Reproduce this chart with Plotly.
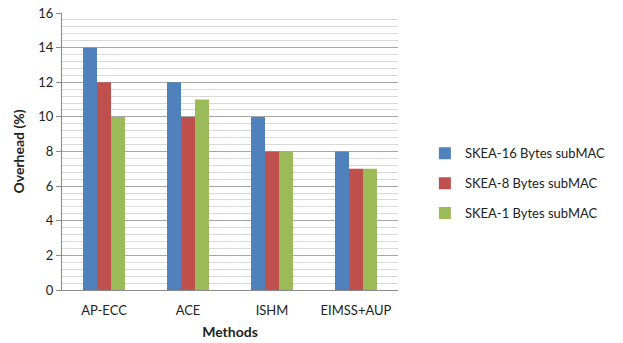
import plotly.graph_objects as go

methods = ["AP-ECC", "ACE", "ISHM", "EIMSS+AUP"]
skea16 = [14, 12, 10, 8]
skea8 = [12, 10, 8, 7]
skea1 = [10, 11, 8, 7]
series_names = ["SKEA-16 Bytes subMAC", "SKEA-8 Bytes subMAC", "SKEA-1 Bytes subMAC"]
colors = ["#4F81BD", "#C0504D", "#9BBB59"]

fig = go.Figure()
for i, (name, vals, c) in enumerate(zip(series_names, [skea16, skea8, skea1], colors)):
    fig.add_trace(go.Bar(x=methods, y=vals, name=name, legendgroup=f"g{i}",
                         marker=dict(color=c, line=dict(width=0))))

font = "Lato, 'Open Sans', sans-serif"
fig.update_layout(
    width=623, height=343,
    margin=dict(l=62, r=191, t=13, b=53),
    paper_bgcolor="white", plot_bgcolor="white",
    barmode="group", bargap=0.5, bargroupgap=0,
    font=dict(family=font, size=13, color="#222"),
    legend=dict(x=1.08, y=0.385, xanchor="left", yanchor="middle",
                font=dict(size=13), tracegroupgap=10, traceorder="grouped"),
    xaxis=dict(
        title=dict(text="<b>Methods</b>", standoff=10, font=dict(size=14)),
        showline=True, linecolor="#8a8a8a", linewidth=1, automargin=False,
        ticks="", showgrid=False, ticklabelstandoff=8,
    ),
    yaxis=dict(
        title=dict(text="<b>Overhead (%)</b>", standoff=10, font=dict(size=14)),
        range=[0, 16], dtick=2, tick0=0, automargin=False,
        showline=True, linecolor="#8a8a8a", linewidth=1,
        ticks="outside", ticklen=5, tickcolor="#8a8a8a",
        showgrid=True, gridcolor="#a6a6a6", gridwidth=1,
        zeroline=False,
        minor=dict(dtick=0.4, tick0=0, showgrid=True, gridcolor="#d9d9d9", gridwidth=1, ticks=""),
    ),
)

fig.write_html("out.html")
